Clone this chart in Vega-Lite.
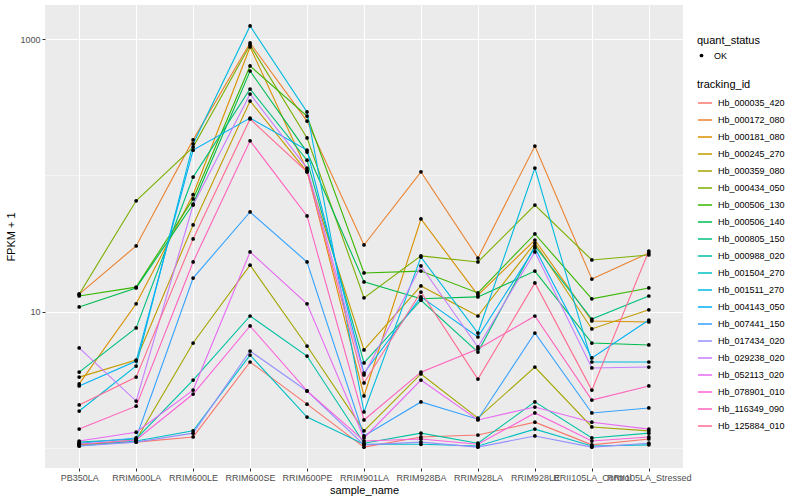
{
  "$schema": "https://vega.github.io/schema/vega-lite/v6.json",
  "autosize": {"type": "none"},
  "width": 638,
  "height": 463,
  "padding": {"left": 45, "top": 5, "right": 117, "bottom": 32},
  "background": "white",
  "config": {
    "view": {"fill": "#EBEBEB", "stroke": null},
    "font": "Liberation Sans",
    "axis": {
      "domain": false,
      "gridColor": "white",
      "tickColor": "#333333",
      "tickSize": 3,
      "labelColor": "#4D4D4D",
      "labelFontSize": 9,
      "labelPadding": 2,
      "titleFontSize": 11,
      "titleFontWeight": "normal",
      "titleColor": "black"
    },
    "legend": {
      "titleFontSize": 11,
      "titleFontWeight": "normal",
      "titleColor": "black",
      "labelFontSize": 9,
      "labelColor": "black"
    }
  },
  "data": {
    "values": [
      {"tracking_id":"Hb_000035_420","sample_name":"PB350LA","fpkm":1.06,"quant_status":"OK"},
      {"tracking_id":"Hb_000035_420","sample_name":"RRIM600LA","fpkm":1.10,"quant_status":"OK"},
      {"tracking_id":"Hb_000035_420","sample_name":"RRIM600LE","fpkm":1.20,"quant_status":"OK"},
      {"tracking_id":"Hb_000035_420","sample_name":"RRIM600SE","fpkm":4.26,"quant_status":"OK"},
      {"tracking_id":"Hb_000035_420","sample_name":"RRIM600PE","fpkm":2.09,"quant_status":"OK"},
      {"tracking_id":"Hb_000035_420","sample_name":"RRIM901LA","fpkm":1.01,"quant_status":"OK"},
      {"tracking_id":"Hb_000035_420","sample_name":"RRIM928BA","fpkm":1.20,"quant_status":"OK"},
      {"tracking_id":"Hb_000035_420","sample_name":"RRIM928LA","fpkm":1.24,"quant_status":"OK"},
      {"tracking_id":"Hb_000035_420","sample_name":"RRIM928LE","fpkm":1.54,"quant_status":"OK"},
      {"tracking_id":"Hb_000035_420","sample_name":"RRII105LA_Control","fpkm":1.05,"quant_status":"OK"},
      {"tracking_id":"Hb_000035_420","sample_name":"RRII105LA_Stressed","fpkm":1.16,"quant_status":"OK"},

      {"tracking_id":"Hb_000172_080","sample_name":"PB350LA","fpkm":13.4,"quant_status":"OK"},
      {"tracking_id":"Hb_000172_080","sample_name":"RRIM600LA","fpkm":30.3,"quant_status":"OK"},
      {"tracking_id":"Hb_000172_080","sample_name":"RRIM600LE","fpkm":182,"quant_status":"OK"},
      {"tracking_id":"Hb_000172_080","sample_name":"RRIM600SE","fpkm":936,"quant_status":"OK"},
      {"tracking_id":"Hb_000172_080","sample_name":"RRIM600PE","fpkm":250,"quant_status":"OK"},
      {"tracking_id":"Hb_000172_080","sample_name":"RRIM901LA","fpkm":30.8,"quant_status":"OK"},
      {"tracking_id":"Hb_000172_080","sample_name":"RRIM928BA","fpkm":106,"quant_status":"OK"},
      {"tracking_id":"Hb_000172_080","sample_name":"RRIM928LA","fpkm":24.7,"quant_status":"OK"},
      {"tracking_id":"Hb_000172_080","sample_name":"RRIM928LE","fpkm":164,"quant_status":"OK"},
      {"tracking_id":"Hb_000172_080","sample_name":"RRII105LA_Control","fpkm":17.3,"quant_status":"OK"},
      {"tracking_id":"Hb_000172_080","sample_name":"RRII105LA_Stressed","fpkm":26.9,"quant_status":"OK"},

      {"tracking_id":"Hb_000181_080","sample_name":"PB350LA","fpkm":2.94,"quant_status":"OK"},
      {"tracking_id":"Hb_000181_080","sample_name":"RRIM600LA","fpkm":11.4,"quant_status":"OK"},
      {"tracking_id":"Hb_000181_080","sample_name":"RRIM600LE","fpkm":72,"quant_status":"OK"},
      {"tracking_id":"Hb_000181_080","sample_name":"RRIM600SE","fpkm":875,"quant_status":"OK"},
      {"tracking_id":"Hb_000181_080","sample_name":"RRIM600PE","fpkm":109,"quant_status":"OK"},
      {"tracking_id":"Hb_000181_080","sample_name":"RRIM901LA","fpkm":2.40,"quant_status":"OK"},
      {"tracking_id":"Hb_000181_080","sample_name":"RRIM928BA","fpkm":47.8,"quant_status":"OK"},
      {"tracking_id":"Hb_000181_080","sample_name":"RRIM928LA","fpkm":13.2,"quant_status":"OK"},
      {"tracking_id":"Hb_000181_080","sample_name":"RRIM928LE","fpkm":33.5,"quant_status":"OK"},
      {"tracking_id":"Hb_000181_080","sample_name":"RRII105LA_Control","fpkm":8.52,"quant_status":"OK"},
      {"tracking_id":"Hb_000181_080","sample_name":"RRII105LA_Stressed","fpkm":8.38,"quant_status":"OK"},

      {"tracking_id":"Hb_000245_270","sample_name":"PB350LA","fpkm":3.30,"quant_status":"OK"},
      {"tracking_id":"Hb_000245_270","sample_name":"RRIM600LA","fpkm":4.40,"quant_status":"OK"},
      {"tracking_id":"Hb_000245_270","sample_name":"RRIM600LE","fpkm":43.2,"quant_status":"OK"},
      {"tracking_id":"Hb_000245_270","sample_name":"RRIM600SE","fpkm":351,"quant_status":"OK"},
      {"tracking_id":"Hb_000245_270","sample_name":"RRIM600PE","fpkm":106,"quant_status":"OK"},
      {"tracking_id":"Hb_000245_270","sample_name":"RRIM901LA","fpkm":5.22,"quant_status":"OK"},
      {"tracking_id":"Hb_000245_270","sample_name":"RRIM928BA","fpkm":15.4,"quant_status":"OK"},
      {"tracking_id":"Hb_000245_270","sample_name":"RRIM928LA","fpkm":9.27,"quant_status":"OK"},
      {"tracking_id":"Hb_000245_270","sample_name":"RRIM928LE","fpkm":31.8,"quant_status":"OK"},
      {"tracking_id":"Hb_000245_270","sample_name":"RRII105LA_Control","fpkm":7.45,"quant_status":"OK"},
      {"tracking_id":"Hb_000245_270","sample_name":"RRII105LA_Stressed","fpkm":10.3,"quant_status":"OK"},

      {"tracking_id":"Hb_000359_080","sample_name":"PB350LA","fpkm":1.05,"quant_status":"OK"},
      {"tracking_id":"Hb_000359_080","sample_name":"RRIM600LA","fpkm":1.14,"quant_status":"OK"},
      {"tracking_id":"Hb_000359_080","sample_name":"RRIM600LE","fpkm":5.87,"quant_status":"OK"},
      {"tracking_id":"Hb_000359_080","sample_name":"RRIM600SE","fpkm":21.9,"quant_status":"OK"},
      {"tracking_id":"Hb_000359_080","sample_name":"RRIM600PE","fpkm":5.58,"quant_status":"OK"},
      {"tracking_id":"Hb_000359_080","sample_name":"RRIM901LA","fpkm":1.33,"quant_status":"OK"},
      {"tracking_id":"Hb_000359_080","sample_name":"RRIM928BA","fpkm":3.48,"quant_status":"OK"},
      {"tracking_id":"Hb_000359_080","sample_name":"RRIM928LA","fpkm":1.65,"quant_status":"OK"},
      {"tracking_id":"Hb_000359_080","sample_name":"RRIM928LE","fpkm":3.91,"quant_status":"OK"},
      {"tracking_id":"Hb_000359_080","sample_name":"RRII105LA_Control","fpkm":1.42,"quant_status":"OK"},
      {"tracking_id":"Hb_000359_080","sample_name":"RRII105LA_Stressed","fpkm":1.33,"quant_status":"OK"},

      {"tracking_id":"Hb_000434_050","sample_name":"PB350LA","fpkm":13.4,"quant_status":"OK"},
      {"tracking_id":"Hb_000434_050","sample_name":"RRIM600LA","fpkm":65,"quant_status":"OK"},
      {"tracking_id":"Hb_000434_050","sample_name":"RRIM600LE","fpkm":161,"quant_status":"OK"},
      {"tracking_id":"Hb_000434_050","sample_name":"RRIM600SE","fpkm":905,"quant_status":"OK"},
      {"tracking_id":"Hb_000434_050","sample_name":"RRIM600PE","fpkm":188,"quant_status":"OK"},
      {"tracking_id":"Hb_000434_050","sample_name":"RRIM901LA","fpkm":12.6,"quant_status":"OK"},
      {"tracking_id":"Hb_000434_050","sample_name":"RRIM928BA","fpkm":25.6,"quant_status":"OK"},
      {"tracking_id":"Hb_000434_050","sample_name":"RRIM928LA","fpkm":23.1,"quant_status":"OK"},
      {"tracking_id":"Hb_000434_050","sample_name":"RRIM928LE","fpkm":60.5,"quant_status":"OK"},
      {"tracking_id":"Hb_000434_050","sample_name":"RRII105LA_Control","fpkm":23.9,"quant_status":"OK"},
      {"tracking_id":"Hb_000434_050","sample_name":"RRII105LA_Stressed","fpkm":26.0,"quant_status":"OK"},

      {"tracking_id":"Hb_000506_130","sample_name":"PB350LA","fpkm":13.0,"quant_status":"OK"},
      {"tracking_id":"Hb_000506_130","sample_name":"RRIM600LA","fpkm":15.1,"quant_status":"OK"},
      {"tracking_id":"Hb_000506_130","sample_name":"RRIM600LE","fpkm":67,"quant_status":"OK"},
      {"tracking_id":"Hb_000506_130","sample_name":"RRIM600SE","fpkm":635,"quant_status":"OK"},
      {"tracking_id":"Hb_000506_130","sample_name":"RRIM600PE","fpkm":272,"quant_status":"OK"},
      {"tracking_id":"Hb_000506_130","sample_name":"RRIM901LA","fpkm":19.2,"quant_status":"OK"},
      {"tracking_id":"Hb_000506_130","sample_name":"RRIM928BA","fpkm":19.8,"quant_status":"OK"},
      {"tracking_id":"Hb_000506_130","sample_name":"RRIM928LA","fpkm":13.7,"quant_status":"OK"},
      {"tracking_id":"Hb_000506_130","sample_name":"RRIM928LE","fpkm":37.1,"quant_status":"OK"},
      {"tracking_id":"Hb_000506_130","sample_name":"RRII105LA_Control","fpkm":12.4,"quant_status":"OK"},
      {"tracking_id":"Hb_000506_130","sample_name":"RRII105LA_Stressed","fpkm":14.9,"quant_status":"OK"},

      {"tracking_id":"Hb_000506_140","sample_name":"PB350LA","fpkm":10.8,"quant_status":"OK"},
      {"tracking_id":"Hb_000506_140","sample_name":"RRIM600LA","fpkm":14.9,"quant_status":"OK"},
      {"tracking_id":"Hb_000506_140","sample_name":"RRIM600LE","fpkm":61.5,"quant_status":"OK"},
      {"tracking_id":"Hb_000506_140","sample_name":"RRIM600SE","fpkm":583,"quant_status":"OK"},
      {"tracking_id":"Hb_000506_140","sample_name":"RRIM600PE","fpkm":148,"quant_status":"OK"},
      {"tracking_id":"Hb_000506_140","sample_name":"RRIM901LA","fpkm":16.5,"quant_status":"OK"},
      {"tracking_id":"Hb_000506_140","sample_name":"RRIM928BA","fpkm":12.4,"quant_status":"OK"},
      {"tracking_id":"Hb_000506_140","sample_name":"RRIM928LA","fpkm":12.8,"quant_status":"OK"},
      {"tracking_id":"Hb_000506_140","sample_name":"RRIM928LE","fpkm":19.8,"quant_status":"OK"},
      {"tracking_id":"Hb_000506_140","sample_name":"RRII105LA_Control","fpkm":5.87,"quant_status":"OK"},
      {"tracking_id":"Hb_000506_140","sample_name":"RRII105LA_Stressed","fpkm":5.68,"quant_status":"OK"},

      {"tracking_id":"Hb_000805_150","sample_name":"PB350LA","fpkm":3.59,"quant_status":"OK"},
      {"tracking_id":"Hb_000805_150","sample_name":"RRIM600LA","fpkm":7.57,"quant_status":"OK"},
      {"tracking_id":"Hb_000805_150","sample_name":"RRIM600LE","fpkm":97,"quant_status":"OK"},
      {"tracking_id":"Hb_000805_150","sample_name":"RRIM600SE","fpkm":430,"quant_status":"OK"},
      {"tracking_id":"Hb_000805_150","sample_name":"RRIM600PE","fpkm":129,"quant_status":"OK"},
      {"tracking_id":"Hb_000805_150","sample_name":"RRIM901LA","fpkm":4.19,"quant_status":"OK"},
      {"tracking_id":"Hb_000805_150","sample_name":"RRIM928BA","fpkm":12.1,"quant_status":"OK"},
      {"tracking_id":"Hb_000805_150","sample_name":"RRIM928LA","fpkm":5.04,"quant_status":"OK"},
      {"tracking_id":"Hb_000805_150","sample_name":"RRIM928LE","fpkm":30.3,"quant_status":"OK"},
      {"tracking_id":"Hb_000805_150","sample_name":"RRII105LA_Control","fpkm":8.81,"quant_status":"OK"},
      {"tracking_id":"Hb_000805_150","sample_name":"RRII105LA_Stressed","fpkm":13.0,"quant_status":"OK"},

      {"tracking_id":"Hb_000988_020","sample_name":"PB350LA","fpkm":1.10,"quant_status":"OK"},
      {"tracking_id":"Hb_000988_020","sample_name":"RRIM600LA","fpkm":1.16,"quant_status":"OK"},
      {"tracking_id":"Hb_000988_020","sample_name":"RRIM600LE","fpkm":3.14,"quant_status":"OK"},
      {"tracking_id":"Hb_000988_020","sample_name":"RRIM600SE","fpkm":9.27,"quant_status":"OK"},
      {"tracking_id":"Hb_000988_020","sample_name":"RRIM600PE","fpkm":4.71,"quant_status":"OK"},
      {"tracking_id":"Hb_000988_020","sample_name":"RRIM901LA","fpkm":1.08,"quant_status":"OK"},
      {"tracking_id":"Hb_000988_020","sample_name":"RRIM928BA","fpkm":1.28,"quant_status":"OK"},
      {"tracking_id":"Hb_000988_020","sample_name":"RRIM928LA","fpkm":1.08,"quant_status":"OK"},
      {"tracking_id":"Hb_000988_020","sample_name":"RRIM928LE","fpkm":2.17,"quant_status":"OK"},
      {"tracking_id":"Hb_000988_020","sample_name":"RRII105LA_Control","fpkm":1.18,"quant_status":"OK"},
      {"tracking_id":"Hb_000988_020","sample_name":"RRII105LA_Stressed","fpkm":1.28,"quant_status":"OK"},

      {"tracking_id":"Hb_001504_270","sample_name":"PB350LA","fpkm":1.03,"quant_status":"OK"},
      {"tracking_id":"Hb_001504_270","sample_name":"RRIM600LA","fpkm":1.12,"quant_status":"OK"},
      {"tracking_id":"Hb_001504_270","sample_name":"RRIM600LE","fpkm":1.33,"quant_status":"OK"},
      {"tracking_id":"Hb_001504_270","sample_name":"RRIM600SE","fpkm":4.79,"quant_status":"OK"},
      {"tracking_id":"Hb_001504_270","sample_name":"RRIM600PE","fpkm":1.68,"quant_status":"OK"},
      {"tracking_id":"Hb_001504_270","sample_name":"RRIM901LA","fpkm":1.06,"quant_status":"OK"},
      {"tracking_id":"Hb_001504_270","sample_name":"RRIM928BA","fpkm":1.06,"quant_status":"OK"},
      {"tracking_id":"Hb_001504_270","sample_name":"RRIM928LA","fpkm":1.03,"quant_status":"OK"},
      {"tracking_id":"Hb_001504_270","sample_name":"RRIM928LE","fpkm":1.37,"quant_status":"OK"},
      {"tracking_id":"Hb_001504_270","sample_name":"RRII105LA_Control","fpkm":1.03,"quant_status":"OK"},
      {"tracking_id":"Hb_001504_270","sample_name":"RRII105LA_Stressed","fpkm":1.05,"quant_status":"OK"},

      {"tracking_id":"Hb_001511_270","sample_name":"PB350LA","fpkm":1.86,"quant_status":"OK"},
      {"tracking_id":"Hb_001511_270","sample_name":"RRIM600LA","fpkm":3.98,"quant_status":"OK"},
      {"tracking_id":"Hb_001511_270","sample_name":"RRIM600LE","fpkm":170,"quant_status":"OK"},
      {"tracking_id":"Hb_001511_270","sample_name":"RRIM600SE","fpkm":1248,"quant_status":"OK"},
      {"tracking_id":"Hb_001511_270","sample_name":"RRIM600PE","fpkm":292,"quant_status":"OK"},
      {"tracking_id":"Hb_001511_270","sample_name":"RRIM901LA","fpkm":1.83,"quant_status":"OK"},
      {"tracking_id":"Hb_001511_270","sample_name":"RRIM928BA","fpkm":25.1,"quant_status":"OK"},
      {"tracking_id":"Hb_001511_270","sample_name":"RRIM928LA","fpkm":6.95,"quant_status":"OK"},
      {"tracking_id":"Hb_001511_270","sample_name":"RRIM928LE","fpkm":113,"quant_status":"OK"},
      {"tracking_id":"Hb_001511_270","sample_name":"RRII105LA_Control","fpkm":4.26,"quant_status":"OK"},
      {"tracking_id":"Hb_001511_270","sample_name":"RRII105LA_Stressed","fpkm":4.26,"quant_status":"OK"},

      {"tracking_id":"Hb_004143_050","sample_name":"PB350LA","fpkm":2.84,"quant_status":"OK"},
      {"tracking_id":"Hb_004143_050","sample_name":"RRIM600LA","fpkm":4.33,"quant_status":"OK"},
      {"tracking_id":"Hb_004143_050","sample_name":"RRIM600LE","fpkm":153,"quant_status":"OK"},
      {"tracking_id":"Hb_004143_050","sample_name":"RRIM600SE","fpkm":263,"quant_status":"OK"},
      {"tracking_id":"Hb_004143_050","sample_name":"RRIM600PE","fpkm":153,"quant_status":"OK"},
      {"tracking_id":"Hb_004143_050","sample_name":"RRIM901LA","fpkm":3.53,"quant_status":"OK"},
      {"tracking_id":"Hb_004143_050","sample_name":"RRIM928BA","fpkm":12.8,"quant_status":"OK"},
      {"tracking_id":"Hb_004143_050","sample_name":"RRIM928LA","fpkm":6.50,"quant_status":"OK"},
      {"tracking_id":"Hb_004143_050","sample_name":"RRIM928LE","fpkm":29.3,"quant_status":"OK"},
      {"tracking_id":"Hb_004143_050","sample_name":"RRII105LA_Control","fpkm":4.56,"quant_status":"OK"},
      {"tracking_id":"Hb_004143_050","sample_name":"RRII105LA_Stressed","fpkm":8.66,"quant_status":"OK"},

      {"tracking_id":"Hb_007441_150","sample_name":"PB350LA","fpkm":1.08,"quant_status":"OK"},
      {"tracking_id":"Hb_007441_150","sample_name":"RRIM600LA","fpkm":1.18,"quant_status":"OK"},
      {"tracking_id":"Hb_007441_150","sample_name":"RRIM600LE","fpkm":17.6,"quant_status":"OK"},
      {"tracking_id":"Hb_007441_150","sample_name":"RRIM600SE","fpkm":53.8,"quant_status":"OK"},
      {"tracking_id":"Hb_007441_150","sample_name":"RRIM600PE","fpkm":23.1,"quant_status":"OK"},
      {"tracking_id":"Hb_007441_150","sample_name":"RRIM901LA","fpkm":1.22,"quant_status":"OK"},
      {"tracking_id":"Hb_007441_150","sample_name":"RRIM928BA","fpkm":2.17,"quant_status":"OK"},
      {"tracking_id":"Hb_007441_150","sample_name":"RRIM928LA","fpkm":1.62,"quant_status":"OK"},
      {"tracking_id":"Hb_007441_150","sample_name":"RRIM928LE","fpkm":6.95,"quant_status":"OK"},
      {"tracking_id":"Hb_007441_150","sample_name":"RRII105LA_Control","fpkm":1.80,"quant_status":"OK"},
      {"tracking_id":"Hb_007441_150","sample_name":"RRII105LA_Stressed","fpkm":1.96,"quant_status":"OK"},

      {"tracking_id":"Hb_017434_020","sample_name":"PB350LA","fpkm":1.03,"quant_status":"OK"},
      {"tracking_id":"Hb_017434_020","sample_name":"RRIM600LA","fpkm":1.10,"quant_status":"OK"},
      {"tracking_id":"Hb_017434_020","sample_name":"RRIM600LE","fpkm":1.28,"quant_status":"OK"},
      {"tracking_id":"Hb_017434_020","sample_name":"RRIM600SE","fpkm":5.13,"quant_status":"OK"},
      {"tracking_id":"Hb_017434_020","sample_name":"RRIM600PE","fpkm":2.61,"quant_status":"OK"},
      {"tracking_id":"Hb_017434_020","sample_name":"RRIM901LA","fpkm":1.05,"quant_status":"OK"},
      {"tracking_id":"Hb_017434_020","sample_name":"RRIM928BA","fpkm":1.10,"quant_status":"OK"},
      {"tracking_id":"Hb_017434_020","sample_name":"RRIM928LA","fpkm":1.01,"quant_status":"OK"},
      {"tracking_id":"Hb_017434_020","sample_name":"RRIM928LE","fpkm":1.22,"quant_status":"OK"},
      {"tracking_id":"Hb_017434_020","sample_name":"RRII105LA_Control","fpkm":1.01,"quant_status":"OK"},
      {"tracking_id":"Hb_017434_020","sample_name":"RRII105LA_Stressed","fpkm":1.08,"quant_status":"OK"},

      {"tracking_id":"Hb_029238_020","sample_name":"PB350LA","fpkm":5.40,"quant_status":"OK"},
      {"tracking_id":"Hb_029238_020","sample_name":"RRIM600LA","fpkm":2.20,"quant_status":"OK"},
      {"tracking_id":"Hb_029238_020","sample_name":"RRIM600LE","fpkm":60.5,"quant_status":"OK"},
      {"tracking_id":"Hb_029238_020","sample_name":"RRIM600SE","fpkm":395,"quant_status":"OK"},
      {"tracking_id":"Hb_029238_020","sample_name":"RRIM600PE","fpkm":113,"quant_status":"OK"},
      {"tracking_id":"Hb_029238_020","sample_name":"RRIM901LA","fpkm":3.42,"quant_status":"OK"},
      {"tracking_id":"Hb_029238_020","sample_name":"RRIM928BA","fpkm":21.6,"quant_status":"OK"},
      {"tracking_id":"Hb_029238_020","sample_name":"RRIM928LA","fpkm":5.49,"quant_status":"OK"},
      {"tracking_id":"Hb_029238_020","sample_name":"RRIM928LE","fpkm":27.4,"quant_status":"OK"},
      {"tracking_id":"Hb_029238_020","sample_name":"RRII105LA_Control","fpkm":3.85,"quant_status":"OK"},
      {"tracking_id":"Hb_029238_020","sample_name":"RRII105LA_Stressed","fpkm":3.91,"quant_status":"OK"},

      {"tracking_id":"Hb_052113_020","sample_name":"PB350LA","fpkm":1.12,"quant_status":"OK"},
      {"tracking_id":"Hb_052113_020","sample_name":"RRIM600LA","fpkm":1.30,"quant_status":"OK"},
      {"tracking_id":"Hb_052113_020","sample_name":"RRIM600LE","fpkm":2.65,"quant_status":"OK"},
      {"tracking_id":"Hb_052113_020","sample_name":"RRIM600SE","fpkm":27.4,"quant_status":"OK"},
      {"tracking_id":"Hb_052113_020","sample_name":"RRIM600PE","fpkm":11.4,"quant_status":"OK"},
      {"tracking_id":"Hb_052113_020","sample_name":"RRIM901LA","fpkm":1.18,"quant_status":"OK"},
      {"tracking_id":"Hb_052113_020","sample_name":"RRIM928BA","fpkm":3.14,"quant_status":"OK"},
      {"tracking_id":"Hb_052113_020","sample_name":"RRIM928LA","fpkm":1.60,"quant_status":"OK"},
      {"tracking_id":"Hb_052113_020","sample_name":"RRIM928LE","fpkm":1.99,"quant_status":"OK"},
      {"tracking_id":"Hb_052113_020","sample_name":"RRII105LA_Control","fpkm":1.54,"quant_status":"OK"},
      {"tracking_id":"Hb_052113_020","sample_name":"RRII105LA_Stressed","fpkm":1.37,"quant_status":"OK"},

      {"tracking_id":"Hb_078901_010","sample_name":"PB350LA","fpkm":1.06,"quant_status":"OK"},
      {"tracking_id":"Hb_078901_010","sample_name":"RRIM600LA","fpkm":1.14,"quant_status":"OK"},
      {"tracking_id":"Hb_078901_010","sample_name":"RRIM600LE","fpkm":2.48,"quant_status":"OK"},
      {"tracking_id":"Hb_078901_010","sample_name":"RRIM600SE","fpkm":7.83,"quant_status":"OK"},
      {"tracking_id":"Hb_078901_010","sample_name":"RRIM600PE","fpkm":2.61,"quant_status":"OK"},
      {"tracking_id":"Hb_078901_010","sample_name":"RRIM901LA","fpkm":1.12,"quant_status":"OK"},
      {"tracking_id":"Hb_078901_010","sample_name":"RRIM928BA","fpkm":1.16,"quant_status":"OK"},
      {"tracking_id":"Hb_078901_010","sample_name":"RRIM928LA","fpkm":1.06,"quant_status":"OK"},
      {"tracking_id":"Hb_078901_010","sample_name":"RRIM928LE","fpkm":1.80,"quant_status":"OK"},
      {"tracking_id":"Hb_078901_010","sample_name":"RRII105LA_Control","fpkm":1.12,"quant_status":"OK"},
      {"tracking_id":"Hb_078901_010","sample_name":"RRII105LA_Stressed","fpkm":1.20,"quant_status":"OK"},

      {"tracking_id":"Hb_116349_090","sample_name":"PB350LA","fpkm":1.37,"quant_status":"OK"},
      {"tracking_id":"Hb_116349_090","sample_name":"RRIM600LA","fpkm":2.02,"quant_status":"OK"},
      {"tracking_id":"Hb_116349_090","sample_name":"RRIM600LE","fpkm":23.1,"quant_status":"OK"},
      {"tracking_id":"Hb_116349_090","sample_name":"RRIM600SE","fpkm":179,"quant_status":"OK"},
      {"tracking_id":"Hb_116349_090","sample_name":"RRIM600PE","fpkm":50.3,"quant_status":"OK"},
      {"tracking_id":"Hb_116349_090","sample_name":"RRIM901LA","fpkm":1.60,"quant_status":"OK"},
      {"tracking_id":"Hb_116349_090","sample_name":"RRIM928BA","fpkm":3.59,"quant_status":"OK"},
      {"tracking_id":"Hb_116349_090","sample_name":"RRIM928LA","fpkm":5.31,"quant_status":"OK"},
      {"tracking_id":"Hb_116349_090","sample_name":"RRIM928LE","fpkm":9.27,"quant_status":"OK"},
      {"tracking_id":"Hb_116349_090","sample_name":"RRII105LA_Control","fpkm":2.24,"quant_status":"OK"},
      {"tracking_id":"Hb_116349_090","sample_name":"RRII105LA_Stressed","fpkm":2.84,"quant_status":"OK"},

      {"tracking_id":"Hb_125884_010","sample_name":"PB350LA","fpkm":2.06,"quant_status":"OK"},
      {"tracking_id":"Hb_125884_010","sample_name":"RRIM600LA","fpkm":3.30,"quant_status":"OK"},
      {"tracking_id":"Hb_125884_010","sample_name":"RRIM600LE","fpkm":34.1,"quant_status":"OK"},
      {"tracking_id":"Hb_125884_010","sample_name":"RRIM600SE","fpkm":259,"quant_status":"OK"},
      {"tracking_id":"Hb_125884_010","sample_name":"RRIM600PE","fpkm":106,"quant_status":"OK"},
      {"tracking_id":"Hb_125884_010","sample_name":"RRIM901LA","fpkm":2.99,"quant_status":"OK"},
      {"tracking_id":"Hb_125884_010","sample_name":"RRIM928BA","fpkm":13.9,"quant_status":"OK"},
      {"tracking_id":"Hb_125884_010","sample_name":"RRIM928LA","fpkm":3.19,"quant_status":"OK"},
      {"tracking_id":"Hb_125884_010","sample_name":"RRIM928LE","fpkm":16.2,"quant_status":"OK"},
      {"tracking_id":"Hb_125884_010","sample_name":"RRII105LA_Control","fpkm":2.65,"quant_status":"OK"},
      {"tracking_id":"Hb_125884_010","sample_name":"RRII105LA_Stressed","fpkm":27.8,"quant_status":"OK"}
    ]
  },
  "encoding": {
    "x": {
      "field": "sample_name",
      "type": "nominal",
      "scale": {
        "type": "point",
        "padding": 0.6,
        "domain": ["PB350LA","RRIM600LA","RRIM600LE","RRIM600SE","RRIM600PE","RRIM901LA","RRIM928BA","RRIM928LA","RRIM928LE","RRII105LA_Control","RRII105LA_Stressed"]
      },
      "axis": {
        "title": "sample_name",
        "labelAngle": 0,
        "grid": true,
        "gridWidth": 1,
        "titlePadding": 2
      }
    },
    "y": {
      "field": "fpkm",
      "type": "quantitative",
      "scale": {"type": "log", "domain": [0.71, 1779], "nice": false, "zero": false},
      "axis": {
        "title": "FPKM + 1",
        "values": [1, 10, 100, 1000],
        "labelExpr": "datum.value == 10 || datum.value == 1000 ? format(datum.value, 'd') : ''",
        "tickColor": {"condition": {"test": "datum.value == 10 || datum.value == 1000", "value": "#333333"}, "value": "transparent"},
        "gridWidth": {"condition": {"test": "datum.value == 10 || datum.value == 1000", "value": 1.1}, "value": 0.5},
        "titlePadding": 3
      }
    }
  },
  "layer": [
    {
      "mark": {"type": "line", "strokeWidth": 1.1},
      "encoding": {
        "color": {
          "field": "tracking_id",
          "type": "nominal",
          "scale": {
            "domain": ["Hb_000035_420","Hb_000172_080","Hb_000181_080","Hb_000245_270","Hb_000359_080","Hb_000434_050","Hb_000506_130","Hb_000506_140","Hb_000805_150","Hb_000988_020","Hb_001504_270","Hb_001511_270","Hb_004143_050","Hb_007441_150","Hb_017434_020","Hb_029238_020","Hb_052113_020","Hb_078901_010","Hb_116349_090","Hb_125884_010"],
            "range": ["#F8766D","#EA8331","#D89000","#C09B00","#A3A500","#7CAE00","#39B600","#00BB4E","#00BF7D","#00C1A3","#00BFC4","#00BAE0","#00B0F6","#35A2FF","#9590FF","#C77CFF","#E76BF3","#FA62DB","#FF62BC","#FF6C91"]
          },
          "legend": {
            "title": "tracking_id",
            "orient": "none",
            "legendX": 652,
            "legendY": 74,
            "symbolType": "stroke",
            "symbolSize": 200,
            "symbolStrokeWidth": 1.5,
            "rowPadding": 4,
            "labelOffset": 5
          }
        },
        "order": {"value": null}
      }
    },
    {
      "mark": {"type": "point", "filled": true, "color": "black", "size": 14, "opacity": 1},
      "encoding": {
        "shape": {
          "field": "quant_status",
          "type": "nominal",
          "scale": {"range": ["circle"]},
          "legend": {
            "title": "quant_status",
            "orient": "none",
            "legendX": 652,
            "legendY": 30,
            "symbolSize": 14,
            "symbolFillColor": "black",
            "symbolStrokeColor": "black",
            "labelOffset": 8
          }
        }
      }
    }
  ]
}
